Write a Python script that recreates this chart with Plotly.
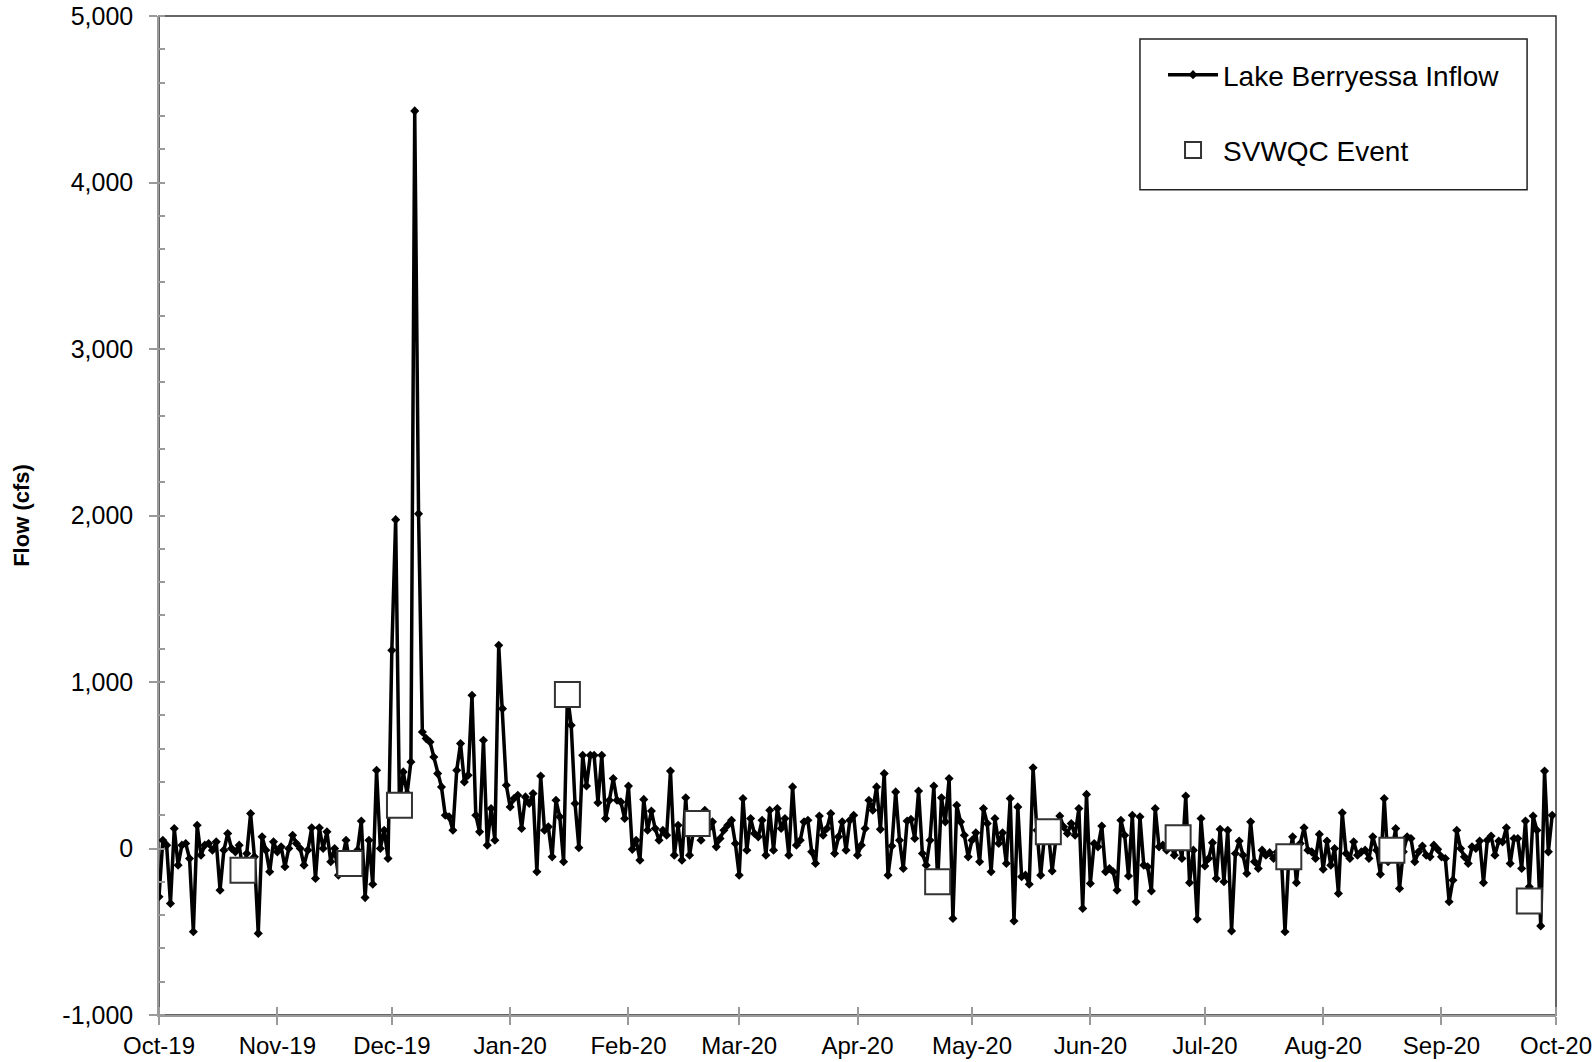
import pandas as pd
import plotly.graph_objects as go

# Daily Lake Berryessa inflow (cfs), Oct 1 2019 - Sep 30 2020
oct19 = [-290, 50, 20, -330, 120, -100, 20, 30, -60, -500, 140, -40, 20, 30, -10, 40,
         -250, -10, 90, 0, -20, 20, -130, -30, 210, -50, -510, 70, -10, -140, 40]
nov19 = [-20, 10, -110, 0, 80, 30, 0, -100, -10, 125, -180, 125, 0, 100, -80, 0,
         -160, -60, 50, -90, -40, -10, 165, -295, 50, -215, 470, 0, 110, -60]
dec19 = [1190, 1975, 260, 460, 330, 520, 4430, 2010, 700, 660, 640, 550, 450, 370, 200, 190,
         110, 470, 630, 400, 440, 920, 200, 100, 650, 20, 240, 50, 1220, 840, 380]
jan20 = [250, 300, 320, 120, 310, 270, 330, -140, 435, 110, 130, -50, 290, 190, -80, 925,
         740, 270, 5, 560, 375, 560, 560, 275, 560, 180, 290, 420, 290, 280, 180]
feb20 = [375, -5, 50, -70, 295, 110, 225, 120, 50, 110, 80, 465, -40, 140, -70, 305,
         -40, 100, 150, 50, 230, 120, 160, 10, 60, 110, 140, 170, 30]
mar20 = [-160, 300, -10, 180, 90, 70, 170, -40, 230, -10, 240, 120, 180, -40, 370, 20,
         50, 160, 170, -20, -90, 195, 80, 120, 210, -30, 70, 160, -10, 170, 200]
apr20 = [-40, 20, 120, 290, 230, 370, 115, 450, -160, 15, 340, 50, -120, 165, 175, 60,
         345, -30, -100, 50, 375, -200, 305, 160, 420, -420, 260, 160, 80, -50]
may20 = [50, 95, -80, 240, 150, -140, 180, 30, 95, -90, 300, -435, 250, -170, -160, -215,
         485, 110, -160, 80, 100, -135, 60, 195, 130, 90, 150, 80, 240, -360, 325]
jun20 = [-210, 30, 10, 135, -140, -120, -140, -250, 170, 80, -165, 200, -320, 190, -100, -110,
         -255, 240, 10, 20, -10, 30, -40, 65, -60, 315, -205, -10, -425, 180]
jul20 = [-105, -60, 35, -180, 115, -200, 110, -495, -30, 45, -40, -150, 160, -80, -120, -10,
         -40, -25, -60, -20, -30, -500, -50, 70, -205, 30, 125, -10, -20, -60, 85]
aug20 = [-125, 45, -100, 0, -270, 215, -30, -60, 40, -40, -20, -10, -60, 70, -10, -155,
         300, -80, -10, 120, -240, -20, 70, 60, -80, -20, 15, -40, -50, 20, -5]
sep20 = [-50, -60, -320, -190, 110, 0, -50, -90, 10, 0, 45, -205, 50, 75, -40, 45,
         40, 125, -90, 60, 60, -120, 165, -230, 195, 110, -465, 465, -20, 200]

flow = oct19 + nov19 + dec19 + jan20 + feb20 + mar20 + apr20 + may20 + jun20 + jul20 + aug20 + sep20
dates = pd.date_range("2019-10-01", "2020-09-30", freq="D")

# SVWQC sampling events
event_dates = ["2019-10-23", "2019-11-20", "2019-12-03", "2020-01-16", "2020-02-19",
               "2020-04-22", "2020-05-21", "2020-06-24", "2020-07-23", "2020-08-19",
               "2020-09-24"]
event_flow = [-130, -90, 260, 925, 150, -200, 100, 65, -50, -10, -315]

y_ticks = [-1000, 0, 1000, 2000, 3000, 4000, 5000]
y_ticktext = ["{:,}".format(v) for v in y_ticks]

FONT = "Liberation Sans, Arial, sans-serif"
AX = "#9a9a9a"

fig = go.Figure()
fig.add_trace(go.Scatter(
    x=dates, y=flow, mode="lines+markers", name="Lake Berryessa Inflow",
    line=dict(color="black", width=3.5),
    marker=dict(symbol="diamond", size=7, color="black"),
    legendgroup="a",
))
fig.add_trace(go.Scatter(
    x=pd.to_datetime(event_dates), y=event_flow, mode="markers", name="SVWQC Event",
    marker=dict(symbol="square", size=25, color="white", line=dict(color="#333333", width=2)),
    legendgroup="b",
))

fig.update_layout(
    width=1596, height=1062,
    margin=dict(l=159, r=40, t=16, b=47, autoexpand=False),
    paper_bgcolor="white", plot_bgcolor="white",
    font=dict(family=FONT, size=25, color="black"),
    showlegend=True,
    legend=dict(
        x=0.7187, xanchor="left", y=0.966, yanchor="top",
        bgcolor="rgba(0,0,0,0)", borderwidth=0,
        font=dict(family=FONT, size=28, color="black"),
        tracegroupgap=36, itemwidth=50,
    ),
    shapes=[
        dict(type="rect", xref="paper", yref="paper", x0=0, y0=0, x1=1, y1=1,
             line=dict(color="#333333", width=1.5), layer="below"),
        dict(type="rect", xref="paper", yref="paper", x0=0.7022, y0=0.8262, x1=0.9793, y1=0.977,
             line=dict(color="#222222", width=1.5), fillcolor="white", layer="above"),
    ],
)

fig.update_xaxes(
    type="date", range=["2019-10-01", "2020-10-01"], automargin=False,
    tick0="2019-10-01", dtick="M1", tickformat="%b-%y",
    showgrid=False, zeroline=False,
    showline=True, linecolor=AX, linewidth=1.5,
    ticks="outside", ticklen=8, tickcolor=AX, tickwidth=1.5,
    minor=dict(ticks="inside", ticklen=8, tickcolor=AX, tickwidth=1.5, dtick="M1", tick0="2019-10-01", showgrid=False),
    tickfont=dict(family=FONT, size=24, color="black"),
    ticklabelstandoff=0,
)
fig.update_yaxes(
    range=[-1000, 5000], automargin=False,
    tickmode="array", tickvals=y_ticks, ticktext=y_ticktext,
    showgrid=False, zeroline=False,
    showline=True, linecolor=AX, linewidth=1.5,
    ticks="outside", ticklen=8, tickcolor=AX, tickwidth=1.5,
    minor=dict(ticks="inside", ticklen=6, tickcolor=AX, tickwidth=1.5, dtick=200, tick0=0, showgrid=False),
    tickfont=dict(family=FONT, size=25, color="black"),
    ticklabelstandoff=11,
    title=dict(text="<b>Flow (cfs)</b>", font=dict(family=FONT, size=22, color="black"), standoff=27),
)

fig.write_html(
    "out.html",
    config={"displayModeBar": False},
    post_script="document.body.style.margin='0';document.body.style.overflow='hidden';",
)
